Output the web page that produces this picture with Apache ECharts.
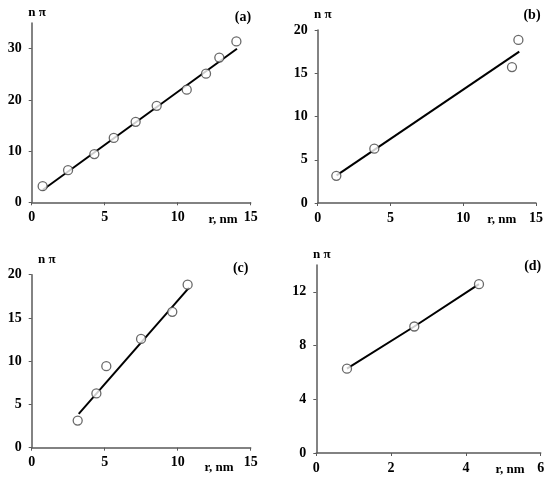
<!DOCTYPE html>
<html><head><meta charset="utf-8">
<script src="https://cdn.jsdelivr.net/npm/echarts@6/dist/echarts.min.js"></script>
<style>html,body{margin:0;padding:0;background:#fff}#c{width:550px;height:483px}</style>
</head><body><div id="c"></div>
<script>
// Panel (a)
const aX = [0.75, 2.49, 4.29, 5.62, 7.12, 8.56, 10.62, 11.94, 12.85, 14.02];
const aY = [3.14, 6.28, 9.42, 12.57, 15.71, 18.85, 21.99, 25.13, 28.27, 31.42];
const aFit = [[0.75, 2.4], [14.06, 30.0]];
// Panel (b)
const bX = [1.28, 3.89, 13.35, 13.79];
const bY = [3.14, 6.28, 15.71, 18.85];
const bFit = [[1.3, 3.2], [13.85, 17.5]];
// Panel (c)
const cX = [3.15, 4.43, 5.11, 7.49, 9.63, 10.68];
const cY = [3.14, 6.28, 9.42, 12.57, 15.71, 18.85];
const cFit = [[3.22, 3.9], [10.78, 18.5]];
// Panel (d)
const dX = [0.82, 2.62, 4.35];
const dY = [6.28, 9.42, 12.57];
const dFit = [[0.82, 6.28], [2.62, 9.42], [4.35, 12.57]];
// axes
const xMax = [15, 15, 15, 6], xInt = [5, 5, 5, 2];
const yMax = [35, 20, 20, 14], yInt = [10, 5, 5, 4];
const panelTags = ['(a)', '(b)', '(c)', '(d)'];

const FONT = '"Liberation Serif", "Times New Roman", serif';
const grids = [
  {left: 31.7, top: 23.1, width: 219, height: 179.2},
  {left: 317.7, top: 30, width: 218.3, height: 173},
  {left: 31.7, top: 274.7, width: 219, height: 173},
  {left: 316.3, top: 265, width: 224.4, height: 188}
];
const axisStyle = {lineStyle: {color: '#5a5a5a', width: 1.5}};
const xAxes = [], yAxes = [], series = [];
const pts = [[aX, aY, aFit], [bX, bY, bFit], [cX, cY, cFit], [dX, dY, dFit]];
for (let i = 0; i < 4; i++) {
  xAxes.push({type: 'value', gridIndex: i, min: 0, max: xMax[i], interval: xInt[i],
    axisLine: axisStyle, axisTick: {show: true, length: 3, inside: false, lineStyle: {color: '#5a5a5a'}},
    splitLine: {show: false},
    axisLabel: {color: '#000', fontFamily: FONT, fontWeight: 'bold', fontSize: 14, margin: 8}});
  yAxes.push({type: 'value', gridIndex: i, min: 0, max: yMax[i], interval: yInt[i],
    axisLine: {show: true, lineStyle: {color: '#5a5a5a', width: 1.5}},
    axisTick: {show: true, length: 3, lineStyle: {color: '#5a5a5a'}},
    splitLine: {show: false},
    axisLabel: {color: '#000', fontFamily: FONT, fontWeight: 'bold', fontSize: 14, margin: 10,
      showMaxLabel: (yMax[i] % yInt[i] === 0)}});
  const [xs, ys, fit] = pts[i];
  series.push({type: 'line', xAxisIndex: i, yAxisIndex: i, data: fit, symbol: 'none',
    lineStyle: {color: '#000', width: 2}, z: 2, silent: true});
  series.push({type: 'scatter', xAxisIndex: i, yAxisIndex: i,
    data: xs.map((x, k) => [x, ys[k]]), symbol: 'circle', symbolSize: 9,
    itemStyle: {color: '#fff', borderColor: '#444', borderWidth: 1.3}, z: 3});
}
const txt = (x, y, s, size) => ({type: 'text', x: x, y: y,
  style: {text: s, fill: '#000', font: 'bold ' + size + 'px ' + FONT, textAlign: 'center', textVerticalAlign: 'middle'}});
const labels = [
  txt(37, 13, 'n π', 13), txt(243, 17, panelTags[0], 14), txt(223, 220, 'r, nm', 13),
  txt(322.7, 15, 'n π', 13), txt(532, 15, panelTags[1], 14), txt(501.7, 220, 'r, nm', 13),
  txt(46.7, 260, 'n π', 13), txt(240.7, 268.3, panelTags[2], 14), txt(219, 467.7, 'r, nm', 13),
  txt(321.7, 255, 'n π', 13), txt(532.7, 266.7, panelTags[3], 14), txt(510, 470, 'r, nm', 13)
];
const chart = echarts.init(document.getElementById('c'));
chart.setOption({animation: false, grid: grids, xAxis: xAxes, yAxis: yAxes, series: series, graphic: labels});
</script></body></html>
